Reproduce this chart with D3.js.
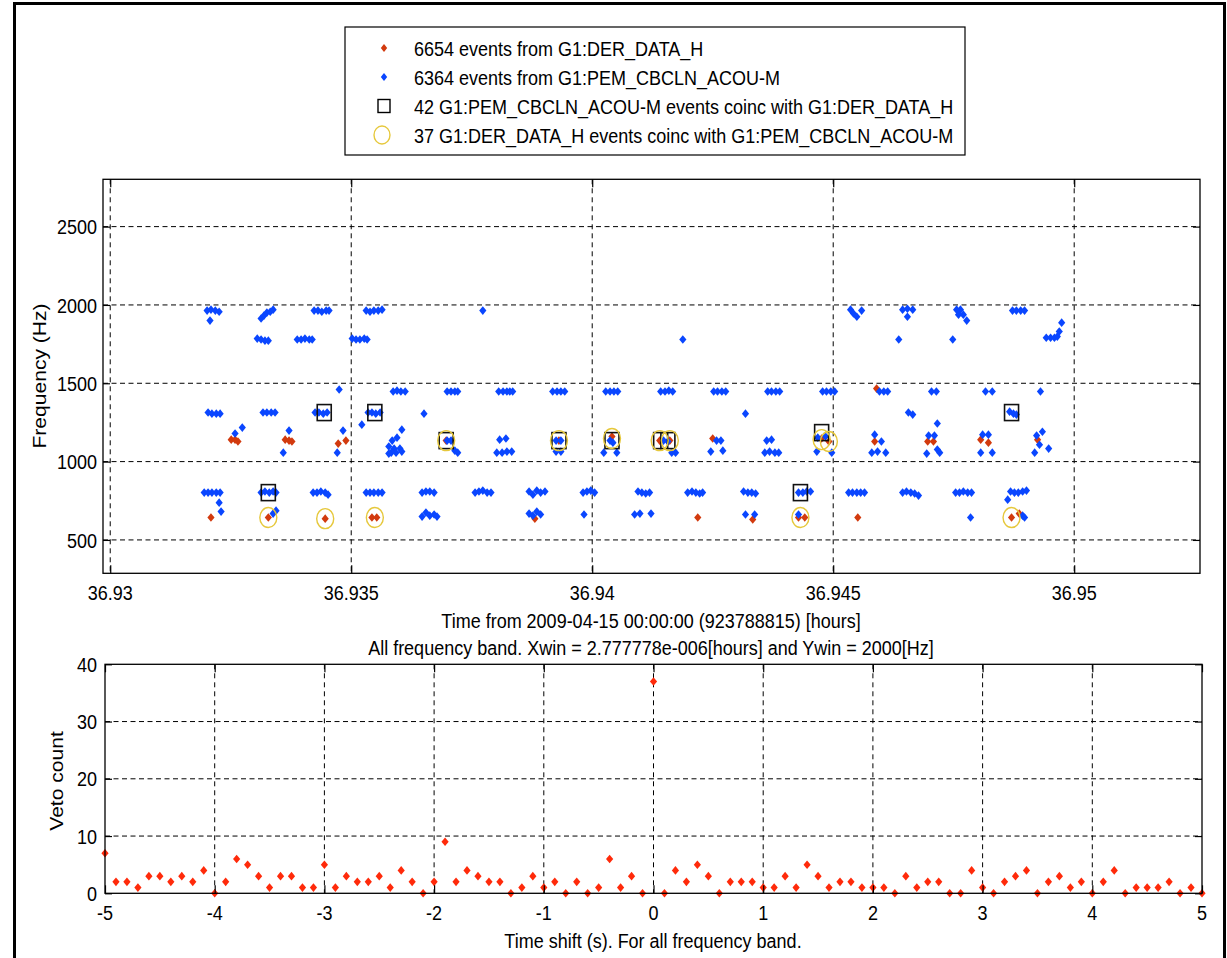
<!DOCTYPE html>
<html><head><meta charset="utf-8">
<script src="https://cdn.jsdelivr.net/npm/d3@7"></script>
<style>
html,body{margin:0;padding:0;background:#fff;}
svg text{font-family:"Liberation Sans",Arial,Helvetica,sans-serif;fill:#000;}
</style></head><body>
<svg id="chart" width="1227" height="958"></svg>
<script>
// ---------------- DATA ----------------
const legendLabels = [
  "6654 events from G1:DER_DATA_H",
  "6364 events from G1:PEM_CBCLN_ACOU-M",
  "42 G1:PEM_CBCLN_ACOU-M events coinc with G1:DER_DATA_H",
  "37 G1:DER_DATA_H events coinc with G1:PEM_CBCLN_ACOU-M"
];
const topXTicks = [36.93, 36.935, 36.94, 36.945, 36.95];
const topYTicks = [500, 1000, 1500, 2000, 2500];
const topXLabel = "Time from 2009-04-15 00:00:00 (923788815) [hours]";
const bottomTitle = "All frequency band. Xwin = 2.777778e-006[hours] and Ywin = 2000[Hz]";
const topYLabel = "Frequency (Hz)";

// [time (hours), frequency (Hz)]
const derEvents = [
  [36.93251,1140],[36.93259,1140],[36.93265,1128],
  [36.93363,1140],[36.93371,1134],[36.93377,1128],
  [36.93473,1115],[36.93489,1134],
  [36.93697,1134],[36.93931,1134],[36.94041,1160],[36.94140,1134],[36.94161,1134],
  [36.94250,1147],[36.94476,1147],[36.94491,1128],
  [36.94586,1128],[36.94590,1466],
  [36.94696,1128],[36.94708,1128],
  [36.94806,1140],[36.94822,1121],[36.94924,1140],
  [36.93209,643],[36.93328,643],[36.93446,636],[36.93543,643],[36.93553,643],
  [36.93881,636],[36.94219,643],[36.94333,630],[36.94428,643],[36.94441,643],
  [36.94551,643],[36.94870,643],[36.94886,668]
];

const pemEvents = [
  // ~1965 Hz
  [36.93201,1964],[36.93209,1970],[36.93218,1964],[36.93226,1957],[36.93207,1900],
  [36.93313,1913],[36.93319,1932],[36.93325,1951],[36.93332,1957],[36.93338,1970],
  [36.93423,1964],[36.93431,1964],[36.93439,1957],[36.93448,1964],[36.93454,1964],
  [36.93531,1964],[36.93539,1957],[36.93547,1964],[36.93556,1964],[36.93564,1970],
  [36.93773,1964],
  [36.94536,1970],[36.94542,1945],[36.94549,1925],[36.94559,1964],
  [36.94644,1970],[36.94654,1976],[36.94665,1970],[36.94654,1925],
  [36.94756,1970],[36.94764,1970],[36.94760,1938],[36.94770,1938],[36.94777,1900],
  [36.94872,1964],[36.94880,1964],[36.94889,1964],[36.94897,1964],
  // ~1785 Hz
  [36.93305,1785],[36.93313,1779],[36.93321,1772],[36.93328,1772],
  [36.93388,1779],[36.93396,1779],[36.93404,1785],[36.93413,1779],[36.93419,1779],
  [36.93502,1785],[36.93510,1779],[36.93518,1779],[36.93527,1785],[36.93533,1779],
  [36.94188,1779],[36.94636,1779],[36.94748,1779],
  [36.94942,1791],[36.94951,1791],[36.94959,1791],[36.94965,1798],[36.94969,1830],[36.94974,1887],
  // ~1450 Hz
  [36.93475,1460],
  [36.93587,1447],[36.93595,1453],[36.93603,1447],[36.93612,1447],
  [36.93699,1447],[36.93707,1447],[36.93715,1447],[36.93721,1447],
  [36.93806,1447],[36.93815,1447],[36.93823,1447],[36.93829,1447],[36.93835,1447],
  [36.93918,1447],[36.93927,1447],[36.93935,1447],[36.93943,1447],
  [36.94028,1447],[36.94037,1447],[36.94045,1447],[36.94053,1447],
  [36.94142,1447],[36.94151,1447],[36.94159,1453],[36.94167,1447],
  [36.94252,1447],[36.94260,1447],[36.94269,1447],[36.94277,1447],
  [36.94364,1447],[36.94372,1447],[36.94381,1447],[36.94389,1447],
  [36.94478,1447],[36.94486,1447],[36.94495,1447],[36.94503,1447],
  [36.94596,1447],[36.94605,1447],[36.94613,1447],
  [36.94704,1447],[36.94714,1447],
  [36.94816,1447],[36.94830,1447],
  [36.94930,1447],
  // ~1310 Hz
  [36.93203,1313],[36.93211,1306],[36.93220,1306],[36.93228,1306],
  [36.93317,1313],[36.93325,1313],[36.93334,1313],[36.93342,1313],
  [36.93425,1313],[36.93433,1313],[36.93442,1306],[36.93450,1313],
  [36.93535,1313],[36.93543,1313],[36.93551,1306],[36.93560,1313],
  [36.93651,1306],[36.94318,1306],
  [36.94656,1313],[36.94665,1300],
  [36.94866,1319],[36.94874,1306],[36.94880,1300],
  // ~1200 Hz
  [36.93522,1236],[36.93274,1217],[36.93259,1179],[36.93371,1198],[36.93483,1198],
  [36.93605,1204],[36.94716,1243],[36.94934,1191],
  // ~1050-1170 Hz
  [36.93359,1057],[36.93471,1057],
  [36.93585,1134],[36.93595,1153],[36.93578,1096],[36.93589,1083],[36.93601,1083],
  [36.93583,1057],[36.93593,1057],[36.93605,1064],[36.93578,1051],
  [36.93699,1134],[36.93707,1134],[36.93715,1070],[36.93721,1057],
  [36.93808,1140],[36.93821,1147],[36.93802,1057],[36.93813,1057],[36.93823,1064],[36.93833,1064],
  [36.93925,1134],[36.93935,1134],[36.93925,1064],[36.93935,1064],
  [36.94037,1134],[36.94043,1121],[36.94024,1057],[36.94051,1057],
  [36.94148,1134],[36.94157,1128],[36.94165,1057],[36.94173,1057],
  [36.94258,1134],[36.94267,1134],[36.94246,1064],[36.94271,1070],
  [36.94362,1134],[36.94372,1140],[36.94358,1057],[36.94368,1064],[36.94379,1057],[36.94387,1057],
  [36.94468,1153],[36.94484,1160],[36.94466,1064],[36.94497,1057],
  [36.94586,1172],[36.94600,1128],[36.94580,1057],[36.94592,1064],[36.94609,1057],
  [36.94698,1166],[36.94710,1166],[36.94694,1051],[36.94716,1077],[36.94721,1057],
  [36.94810,1172],[36.94822,1172],[36.94806,1057],[36.94830,1057],
  [36.94922,1166],[36.94928,1108],[36.94918,1057],[36.94947,1083],
  // ~800 Hz
  [36.93195,802],[36.93203,802],[36.93211,802],[36.93220,802],[36.93228,802],[36.93226,738],[36.93230,681],
  [36.93313,802],[36.93321,809],[36.93330,802],[36.93338,809],[36.93344,802],
  [36.93421,802],[36.93429,802],[36.93437,809],[36.93446,802],[36.93452,789],
  [36.93531,802],[36.93539,802],[36.93547,802],[36.93556,802],[36.93564,802],
  [36.93647,802],[36.93655,809],[36.93663,809],[36.93672,802],
  [36.93757,802],[36.93765,809],[36.93773,815],[36.93782,802],[36.93790,802],
  [36.93869,809],[36.93877,789],[36.93885,815],[36.93893,802],[36.93902,809],
  [36.93981,802],[36.93989,809],[36.93997,815],[36.94005,802],
  [36.94095,809],[36.94103,802],[36.94111,796],[36.94119,802],
  [36.94198,802],[36.94207,809],[36.94215,802],[36.94223,796],[36.94229,802],
  [36.94314,809],[36.94323,802],[36.94331,802],[36.94339,796],
  [36.94428,802],[36.94437,802],[36.94445,809],[36.94453,809],
  [36.94532,802],[36.94540,802],[36.94549,802],[36.94557,802],[36.94565,802],
  [36.94644,802],[36.94652,809],[36.94661,802],[36.94669,796],[36.94677,783],
  [36.94754,802],[36.94762,802],[36.94770,809],[36.94779,802],[36.94787,802],
  [36.94868,809],[36.94876,802],[36.94884,802],[36.94893,809],[36.94901,815],[36.94862,757],
  // ~650 Hz
  [36.93338,668],[36.93344,687],
  [36.93647,649],[36.93655,675],[36.93663,655],[36.93672,662],[36.93678,649],
  [36.93869,668],[36.93877,655],[36.93885,681],[36.93893,662],
  [36.93983,662],
  [36.94088,662],[36.94099,668],[36.94122,668],
  [36.94318,662],[36.94337,662],
  [36.94428,662],
  [36.94785,643],
  [36.94893,655],[36.94897,643]
];

// PEM events coincident with DER (squares)
const pemCoincEvents = [
  [36.93328,802],[36.93444,1313],[36.93549,1313],[36.93697,1134],[36.93931,1134],
  [36.94041,1134],[36.94142,1134],[36.94157,1134],[36.94432,802],[36.94476,1185],[36.94870,1313]
];
// DER events coincident with PEM (circles)
const derCoincEvents = [
  [36.93328,643],[36.93446,636],[36.93549,643],[36.93697,1134],[36.93931,1134],
  [36.94041,1147],[36.94140,1134],[36.94161,1134],[36.94432,643],[36.94476,1140],
  [36.94491,1128],[36.94870,643]
];

// bottom panel
const shiftValues = [-5,-4.9,-4.8,-4.7,-4.6,-4.5,-4.4,-4.3,-4.2,-4.1,
  -4,-3.9,-3.8,-3.7,-3.6,-3.5,-3.4,-3.3,-3.2,-3.1,
  -3,-2.9,-2.8,-2.7,-2.6,-2.5,-2.4,-2.3,-2.2,-2.1,
  -2,-1.9,-1.8,-1.7,-1.6,-1.5,-1.4,-1.3,-1.2,-1.1,
  -1,-0.9,-0.8,-0.7,-0.6,-0.5,-0.4,-0.3,-0.2,-0.1,
  0,
  0.1,0.2,0.3,0.4,0.5,0.6,0.7,0.8,0.9,1,
  1.1,1.2,1.3,1.4,1.5,1.6,1.7,1.8,1.9,2,
  2.1,2.2,2.3,2.4,2.5,2.6,2.7,2.8,2.9,3,
  3.1,3.2,3.3,3.4,3.5,3.6,3.7,3.8,3.9,4,
  4.1,4.2,4.3,4.4,4.5,4.6,4.7,4.8,4.9,5];
const vetoCounts = [7,2,2,1,3,3,2,3,2,4,
  0,2,6,5,3,1,3,3,1,1,
  5,1,3,2,2,3,1,4,2,0,
  2,9,2,4,3,2,2,0,1,3,
  1,2,0,2,0,1,6,1,3,0,
  37,
  0,4,2,5,3,0,2,2,2,1,
  1,3,1,5,3,1,2,2,1,1,
  1,0,3,1,2,2,0,0,4,1,
  0,2,3,4,0,2,3,1,2,0,
  2,4,0,1,1,1,2,0,1,0];
const botXTicks = [-5,-4,-3,-2,-1,0,1,2,3,4,5];
const botYTicks = [0,10,20,30,40];
const botXLabel = "Time shift (s). For all frequency band.";
const botYLabel = "Veto count";

// ---------------- STYLE ----------------
const SY = 1.17;           // vertical stretch of the reference picture
const FS = 18;
const RED_TOP = "#d23a0e", BLUE = "#0a46ff", RED_BOT = "#ff2a0a", GOLD = "#e6c83c";

const svg = d3.select("#chart");
svg.append("rect").attr("width",1227).attr("height",958).attr("fill","#fff");

function label(x, y, s, anchor, rotate, size) {
  svg.append("text")
    .attr("transform", `translate(${x},${y}) scale(1,${SY})` + (rotate ? " rotate(-90)" : ""))
    .attr("text-anchor", anchor || "middle")
    .attr("dy", "0.36em")
    .attr("font-size", size || FS)
    .text(s);
}
function diamond(cx, cy, w, h) {
  return `M${cx},${cy-h}L${cx+w},${cy}L${cx},${cy+h}L${cx-w},${cy}Z`;
}

// outer frame
svg.append("path").attr("d","M14.5,958V3.5H1224.5V958").attr("fill","none")
  .attr("stroke","#000").attr("stroke-width",3);

// ---------------- TOP PANEL ----------------
const T = {l:103, r:1200, t:179.3, b:573.3};
const x1 = d3.scaleLinear().domain([36.92985, 36.95261]).range([T.l, T.r]);
const y1 = d3.scaleLinear().domain([287, 2802]).range([T.b, T.t]);

const g1 = svg.append("g");
// grid
g1.selectAll("line.vg").data(topXTicks).join("line")
  .attr("x1", d=>x1(d)).attr("x2", d=>x1(d)).attr("y1", T.t).attr("y2", T.b)
  .attr("stroke","#000").attr("stroke-dasharray","5,4").attr("stroke-width",1);
g1.selectAll("line.hg").data(topYTicks).join("line")
  .attr("x1", T.l).attr("x2", T.r).attr("y1", d=>y1(d)).attr("y2", d=>y1(d))
  .attr("stroke","#000").attr("stroke-dasharray","5,3.5").attr("stroke-width",1);

// points
g1.selectAll("path.der").data(derEvents).join("path")
  .attr("d", d=>diamond(x1(d[0]), y1(d[1]), 3.6, 4.3)).attr("fill", RED_TOP);
g1.selectAll("path.pem").data(pemEvents).join("path")
  .attr("d", d=>diamond(x1(d[0]), y1(d[1]), 3.6, 4.3)).attr("fill", BLUE);
g1.selectAll("rect.sq").data(pemCoincEvents).join("rect")
  .attr("x", d=>x1(d[0])-7).attr("y", d=>y1(d[1])-8).attr("width",14).attr("height",16)
  .attr("fill","none").attr("stroke","#111").attr("stroke-width",1.6);
g1.selectAll("ellipse.ci").data(derCoincEvents).join("ellipse")
  .attr("cx", d=>x1(d[0])).attr("cy", d=>y1(d[1])).attr("rx",8.5).attr("ry",10)
  .attr("fill","none").attr("stroke",GOLD).attr("stroke-width",1.4);

// axes (inward ticks on all sides)
function box(g, xs, ys, P, xt, yt, tl) {
  g.append("g").attr("transform",`translate(0,${P.b})`).call(d3.axisBottom(xs).tickValues(xt).tickSize(-tl).tickFormat(""));
  g.append("g").attr("transform",`translate(0,${P.t})`).call(d3.axisTop(xs).tickValues(xt).tickSize(-tl).tickFormat(""));
  g.append("g").attr("transform",`translate(${P.l},0)`).call(d3.axisLeft(ys).tickValues(yt).tickSize(-7).tickFormat(""));
  g.append("g").attr("transform",`translate(${P.r},0)`).call(d3.axisRight(ys).tickValues(yt).tickSize(-7).tickFormat(""));
  g.selectAll(".domain").remove();
  g.selectAll(".tick line").attr("stroke","#000").attr("stroke-width",1.2);
  g.append("rect").attr("x",P.l).attr("y",P.t).attr("width",P.r-P.l).attr("height",P.b-P.t)
    .attr("fill","none").attr("stroke","#000").attr("stroke-width",1.3);
}
box(g1, x1, y1, T, topXTicks, topYTicks, 8);

topXTicks.forEach(v => label(x1(v), 592, d3.format("")(v)));
topYTicks.forEach(v => label(97, y1(v), String(v), "end"));
label(651, 620, topXLabel);
label(651, 647, bottomTitle);
label(40, 376, topYLabel, "middle", true);

// legend
const L = {l:345, t:27, r:965, b:155};
svg.append("rect").attr("x",L.l).attr("y",L.t).attr("width",L.r-L.l).attr("height",L.b-L.t)
  .attr("fill","#fff").attr("stroke","#000").attr("stroke-width",1.2);
const rowY = [48, 77, 106, 135];
legendLabels.forEach((s,i) => label(414, rowY[i], s, "start"));
svg.append("path").attr("d", diamond(384, rowY[0], 3.2, 4)).attr("fill", RED_TOP);
svg.append("path").attr("d", diamond(384, rowY[1], 3.2, 4)).attr("fill", BLUE);
svg.append("rect").attr("x",378).attr("y",rowY[2]-6.5).attr("width",12).attr("height",13)
  .attr("fill","none").attr("stroke","#000").attr("stroke-width",1.4);
svg.append("ellipse").attr("cx",382).attr("cy",rowY[3]).attr("rx",8).attr("ry",9)
  .attr("fill","none").attr("stroke",GOLD).attr("stroke-width",1.4);

// ---------------- BOTTOM PANEL ----------------
const B = {l:105, r:1202, t:664.3, b:893.3};
const x2 = d3.scaleLinear().domain([-5, 5]).range([B.l, B.r]);
const y2 = d3.scaleLinear().domain([0, 40]).range([B.b, B.t]);
const g2 = svg.append("g");
g2.selectAll("line.vg").data(botXTicks.slice(1,-1)).join("line")
  .attr("x1", d=>x2(d)).attr("x2", d=>x2(d)).attr("y1", B.t).attr("y2", B.b)
  .attr("stroke","#000").attr("stroke-dasharray","5,4").attr("stroke-width",1);
g2.selectAll("line.hg").data(botYTicks.slice(1,-1)).join("line")
  .attr("x1", B.l).attr("x2", B.r).attr("y1", d=>y2(d)).attr("y2", d=>y2(d))
  .attr("stroke","#000").attr("stroke-dasharray","5,3.5").attr("stroke-width",1);
g2.selectAll("path.vc").data(shiftValues).join("path")
  .attr("d", (d,i)=>diamond(x2(d), y2(vetoCounts[i]), 3.6, 4.3)).attr("fill", RED_BOT);
box(g2, x2, y2, B, botXTicks, botYTicks, 8);

botXTicks.forEach(v => label(x2(v), 912, String(v)));
botYTicks.forEach(v => label(97, y2(v), String(v), "end"));
label(653, 940, botXLabel);
label(57, 781, botYLabel, "middle", true);
</script>
</body></html>
